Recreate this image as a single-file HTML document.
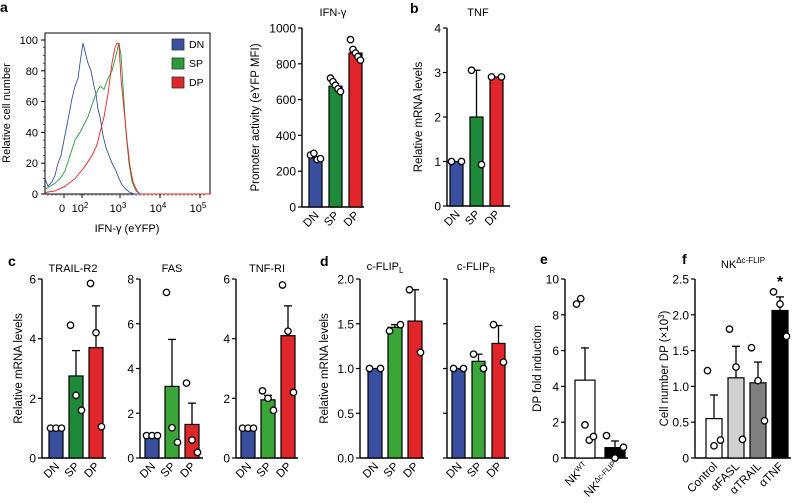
<!DOCTYPE html>
<html><head><meta charset="utf-8"><style>
html,body{margin:0;padding:0;background:#fff;}
svg{display:block;font-family:"Liberation Sans",Arial,sans-serif;}
</style></head><body>
<svg id="fig" width="794" height="503" viewBox="0 0 794 503" xmlns="http://www.w3.org/2000/svg">
<g id="static" font-weight="bold" font-size="14">
<text x="0" y="12">a</text>
<text x="410" y="13">b</text>
<text x="8" y="266">c</text>
<text x="320" y="266">d</text>
<text x="540" y="264">e</text>
<text x="682" y="264">f</text>
</g>
</svg>
<script>
// ---- Histogram data (channel units 0..165, percent of max) ----
const histChannels = [0,165];
const dnX = [0,3,7,10,13,16,19,22,25,27,30,33,35,38,41,43,46,49,51,53,55,58,61,64,67,71,74,77,81,85,90,165];
const dnY = [10,5,8,12,20,25,35,45,55,62,70,75,85,98,90,85,80,70,65,55,50,38,30,25,20,15,10,6,3,1,0,0];
const spX = [0,5,10,15,20,25,30,35,39,43,47,51,55,59,63,67,71,74,76,78,81,84,87,91,95,165];
const spY = [3,5,7,10,15,25,35,40,45,50,58,65,70,68,75,80,90,98,90,70,40,20,8,2,0,0];
const dpX = [0,10,20,30,40,47,52,55,59,63,67,70,72,74,76,79,82,85,88,92,95,165];
const dpY = [1,2,5,10,18,25,32,40,50,65,85,95,98,97,75,55,35,18,8,2,0,0];

// ---- Bar panel data ----
const catsDSP = ["DN","SP","DP"];
const aMeans = [275,675,860], aErr=[null,null,null], aDots=[[290,300,265,270],[720,700,680,660,645],[935,880,860,840,820]];
const bMeans = [1,2,2.9], bErr=[null,3.05,null], bDots=[[1,1],[3.05,0.93],[2.9,2.9]];
const trMeans=[1,2.75,3.7], trErr=[null,3.6,5.1], trDots=[[1,1,1],[4.45,2.1,1.6],[5.85,4.2,1.05]];
const fasMeans=[1,3.2,1.5], fasErr=[null,5.3,2.45], fasDots=[[1,1,1],[7.4,1.35,0.7],[3.35,0.8,0.25]];
const tnfrMeans=[1,1.95,4.1], tnfrErr=[null,2.1,5.1], tnfrDots=[[1,1,1],[2.25,2.0,1.6],[5.8,4.25,2.2]];
const flMeans=[1,1.46,1.53], flErr=[null,1.49,1.88], flDots=[[1,1],[1.42,1.49],[1.88,1.18]];
const frMeans=[1,1.08,1.28], frErr=[null,1.16,1.48], frDots=[[1,1],[1.16,1.0],[1.49,1.07]];
const eCats=["NK^WT","NK^Δc-FLIP"], eMeans=[4.35,0.58], eErr=[6.15,0.95], eDots=[[8.6,8.9,1.85,1.0,1.2],[1.25,0.0,0.6]];
const fCats=["Control","αFASL","αTRAIL","αTNF"], fMeans=[0.55,1.12,1.05,2.06], fErr=[0.88,1.56,1.34,2.25], fDots=[[1.22,0.17,0.25],[1.8,1.27,0.26],[1.54,1.08,0.52],[2.32,2.15,1.7]];

const NS="http://www.w3.org/2000/svg";
const svg=document.getElementById('fig');
function mk(tag,attrs,parent,text){const e=document.createElementNS(NS,tag);for(const k in attrs)e.setAttribute(k,attrs[k]);if(text!==undefined)e.textContent=text;(parent||svg).appendChild(e);return e;}
function lin(d0,d1,r0,r1){return v=>r0+(v-d0)/(d1-d0)*(r1-r0);}

// ---- Histogram ----
(function(){
  const g=mk('g',{});
  
  
  const x=lin(histChannels[0],histChannels[1],45,210), y=lin(0,100,194,40);
  const frame=mk('rect',{x:45,y:33,width:165,height:161,fill:'none',stroke:'#000','stroke-width':1},g);
  
  
  [[dnX,dnY,'#3a4fa0','dn-curve'],[spX,spY,'#2a9a3a','sp-curve'],[dpX,dpY,'#e0262a','dp-curve']].forEach(s=>{
    const p=mk('path',{d:s[0].map((v,i)=>(i?'L':'M')+x(v).toFixed(1)+','+y(s[1][i]).toFixed(1)).join(''),fill:'none',stroke:s[2],'stroke-width':0.9},g);
    
    
  });
  [0,20,40,60,80,100].forEach(v=>{
    mk('line',{x1:41,x2:45,y1:y(v),y2:y(v),stroke:'#000'},g);
    const t=mk('text',{x:38,y:y(v)+4,'text-anchor':'end','font-size':11},g,String(v));
    
    
  });
  for(let v=0;v<=100;v+=5) mk('line',{x1:43,x2:45,y1:y(v),y2:y(v),stroke:'#000','stroke-width':0.6},g);
  const xt=[[62,'0',''],[80,'10','2'],[118,'10','3'],[158,'10','4'],[198,'10','5']];
  xt.forEach(t=>{
    mk('line',{x1:t[0]+2,x2:t[0]+2,y1:194,y2:198,stroke:'#000'},g);
    const tx=mk('text',{x:t[0],y:212,'text-anchor':'middle','font-size':11},g);
    
    
    tx.appendChild(document.createTextNode(t[1]));
    if(t[2]){mk('tspan',{dy:-4,'font-size':8},tx,t[2]);}
  });
  for(let px=48;px<208;px+=4) mk('line',{x1:px,x2:px,y1:194,y2:196,stroke:'#000','stroke-width':0.5},g);
  const xl=mk('text',{x:127,y:232,'text-anchor':'middle','font-size':11},g,'IFN-γ (eYFP)');
  
  
  const yl=mk('text',{transform:'translate(10,113) rotate(-90)','text-anchor':'middle','font-size':11},g,'Relative cell number');
  
  
  [['DN','#3a4fa0',39],['SP','#2a9a3a',58],['DP','#e0262a',77]].forEach(l=>{
    const lg=mk('g',{},g);
    
    
    mk('rect',{x:172,y:l[2],width:12,height:11,fill:l[1],stroke:'#333','stroke-width':0.8},lg);
    mk('text',{x:189,y:l[2]+9,'font-size':10.5},lg,l[0]);
  });
})();

// ---- Generic bar panel ----
function barPanel(o){
  const g=mk('g',{});
  
  
  const y=lin(0,o.max,o.y0,o.y1);
  mk('line',{x1:o.ax,x2:o.ax,y1:o.y1,y2:o.y0+0.5,stroke:'#000','stroke-width':1.4},g);
  mk('line',{x1:o.ax,x2:o.axEnd,y1:o.y0,y2:o.y0,stroke:'#000','stroke-width':1.4},g);
  o.ticks.forEach(v=>{
    mk('line',{x1:o.ax-4,x2:o.ax,y1:y(v),y2:y(v),stroke:'#000','stroke-width':1.2},g);
    if(o.showTicks!==false){
      const t=mk('text',{x:o.ax-6,y:y(v)+4.5,'text-anchor':'end','font-size':12},g,o.fmt?o.fmt(v):String(v));
      
      
    }
  });
  if(o.ytitle){
    const t=mk('text',{transform:`translate(${o.ytx},${(o.y0+o.y1)/2}) rotate(-90)`,'text-anchor':'middle','font-size':11.5},g);
    
    
    t.appendChild(document.createTextNode(o.ytitle));
    if(o.ysup){mk('tspan',{dy:-4,'font-size':8},t,o.ysup);mk('tspan',{dy:4},t,')');}
  }
  if(o.title){
    const t=mk('text',{x:o.tx,y:o.ty,'text-anchor':'middle','font-size':11},g);
    
    
    t.appendChild(document.createTextNode(o.title));
    if(o.tsub){mk('tspan',{dy:3,'font-size':8},t,o.tsub);}
    if(o.tsup){mk('tspan',{dy:-5,'font-size':8},t,o.tsup);}
  }
  const bx=i=>o.bx0+i*o.step;
  o.means.forEach((m,i)=>{
    const cx=bx(i)+o.bw/2;
    if(o.err[i]!=null){
      mk('line',{x1:cx,x2:cx,y1:y(m),y2:y(o.err[i]),stroke:'#000','stroke-width':1.3},g);
      mk('line',{x1:cx-4,x2:cx+4,y1:y(o.err[i]),y2:y(o.err[i]),stroke:'#000','stroke-width':1.3},g);
    }
    const r=mk('rect',{x:bx(i),y:y(m),width:o.bw,height:o.y0-y(m),fill:o.colors[i],stroke:'#000','stroke-width':1.2},g);
    
    
    const d=o.dots[i], n=d.length;
    d.forEach((v,j)=>{
      const off=n>1?(j-(n-1)/2)*(o.bw-3)/(n-1):0;
      const c=mk('circle',{cx:cx+off,cy:y(v),r:3.2,fill:'#fff',stroke:'#000','stroke-width':1.3},g);
      
      
    });
    const lab=o.cats[i];
    const t=mk('text',{transform:`translate(${cx+4},${o.y0+9}) rotate(-45)`,'text-anchor':'end','font-size':11.5},g);
    
    
    if(lab.indexOf('^')>=0){const p=lab.split('^');t.appendChild(document.createTextNode(p[0]));mk('tspan',{dy:-4,'font-size':7.5},t,p[1]);}
    else t.textContent=lab;
  });
  if(o.star){
    const s=mk('text',{x:bx(o.star)+o.bw/2,y:o.starY,'text-anchor':'middle','font-size':16,'font-weight':'bold'},g,'*');
    
    
  }
}
const C3=['#3a4fa0','#1f8a3a','#e0262a'], C3b=['#3a4fa0','#3aa638','#e0262a'];
barPanel({name:'ifng-bar-panel',cats:catsDSP,means:aMeans,err:aErr,dots:aDots,max:1000,ticks:[0,200,400,600,800,1000],y0:207,y1:28,ax:302,axEnd:364,bx0:309,step:20,bw:13,colors:C3,ytitle:'Promoter activity (eYFP MFI)',ytx:259,title:'IFN-γ',tx:333,ty:16});
barPanel({name:'tnf-bar-panel',cats:catsDSP,means:bMeans,err:bErr,dots:bDots,max:4,ticks:[0,1,2,3,4],y0:206,y1:28,ax:447,axEnd:510,bx0:450,step:20,bw:13,colors:C3,ytitle:'Relative mRNA levels',ytx:422,title:'TNF',tx:478,ty:16});
barPanel({name:'trail-r2-panel',cats:catsDSP,means:trMeans,err:trErr,dots:trDots,max:6,ticks:[0,2,4,6],y0:458,y1:279,ax:42,axEnd:106,bx0:49,step:20,bw:14,colors:C3,ytitle:'Relative mRNA levels',ytx:22,title:'TRAIL-R2',tx:73,ty:272});
barPanel({name:'fas-panel',cats:catsDSP,means:fasMeans,err:fasErr,dots:fasDots,max:8,ticks:[0,2,4,6,8],y0:458,y1:279,ax:140,axEnd:203,bx0:145,step:20,bw:14,colors:C3b,title:'FAS',tx:172,ty:272});
barPanel({name:'tnf-ri-panel',cats:catsDSP,means:tnfrMeans,err:tnfrErr,dots:tnfrDots,max:6,ticks:[0,2,4,6],y0:458,y1:279,ax:236,axEnd:298,bx0:241,step:20,bw:14,colors:C3b,title:'TNF-RI',tx:267,ty:272});
barPanel({name:'cflip-l-panel',cats:catsDSP,means:flMeans,err:flErr,dots:flDots,max:2,ticks:[0,0.5,1,1.5,2],fmt:v=>v.toFixed(1),y0:458,y1:279,ax:360,axEnd:424,bx0:368,step:20,bw:14,colors:C3b,ytitle:'Relative mRNA levels',ytx:328,title:'c-FLIP',tsub:'L',tx:385,ty:270});
barPanel({name:'cflip-r-panel',cats:catsDSP,means:frMeans,err:frErr,dots:frDots,max:2,ticks:[0,0.5,1,1.5,2],showTicks:false,y0:458,y1:279,ax:447,axEnd:509,bx0:452,step:20,bw:13,colors:C3b,title:'c-FLIP',tsub:'R',tx:476,ty:270});
barPanel({name:'dp-fold-panel',cats:eCats,means:eMeans,err:eErr,dots:eDots,max:10,ticks:[0,2,4,6,8,10],y0:458,y1:279,ax:565,axEnd:628,bx0:575,step:30,bw:20,colors:['#fff','#000'],ytitle:'DP fold induction',ytx:541});
barPanel({name:'cell-number-panel',cats:fCats,means:fMeans,err:fErr,dots:fDots,max:2.5,ticks:[0,0.5,1,1.5,2,2.5],fmt:v=>v===0?'0':v.toFixed(1),y0:458,y1:279,ax:695,axEnd:791,bx0:706,step:22,bw:16,colors:['#fff','#d0d0d0','#808080','#000'],ytitle:'Cell number DP (×10',ysup:'3',ytx:668,title:'NK',tsup:'Δc-FLIP',tx:743,ty:268,star:3,starY:287});
</script>
</body></html>
